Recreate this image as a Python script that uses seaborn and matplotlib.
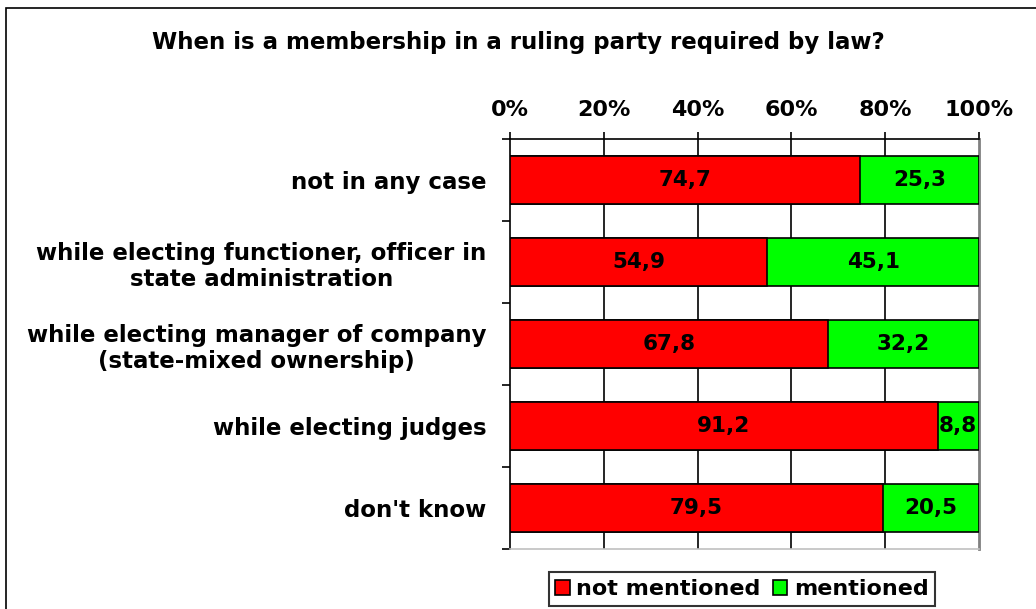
import matplotlib
matplotlib.use("Agg")
import matplotlib.pyplot as plt
import matplotlib.patches as mpatches
import numpy as np
import pandas as pd
import seaborn as sns

# Survey answers
categories = [
    "not in any case",
    "while electing functioner, officer in\nstate administration",
    "while electing manager of company\n(state-mixed ownership)",
    "while electing judges",
    "don't know",
]
not_mentioned = [74.7, 54.9, 67.8, 91.2, 79.5]
mentioned = [25.3, 45.1, 32.2, 8.8, 20.5]
series_names = ["not mentioned", "mentioned"]
tick_values = [0, 20, 40, 60, 80, 100]
title = "When is a membership in a ruling party required by law?"

RED = "#FF0000"
GREEN = "#00FF00"

sns.set_theme(style="white", rc={"text.color": "black", "axes.labelcolor": "black",
                                 "xtick.color": "black", "ytick.color": "black"})
plt.rcParams["font.family"] = ["DejaVu Sans"]
plt.rcParams["font.weight"] = "bold"

df = pd.DataFrame({
    "category": categories,
    "not_mentioned": not_mentioned,
    "mentioned": mentioned,
})
df["total"] = df["not_mentioned"] + df["mentioned"]

fig = plt.figure(figsize=(10.36, 6.09), dpi=100)
fig.patch.set_facecolor("white")

# outer frame
fig.add_artist(mpatches.Rectangle((6 / 1036, -0.05), 1.2, 1 - 8 / 609 + 0.05,
                                  transform=fig.transFigure, fill=False,
                                  edgecolor="black", linewidth=1.2))

ax = fig.add_axes([510 / 1036, 60 / 609, 469 / 1036, 410 / 609])

bar_w = 0.585
sns.barplot(data=df, x="total", y="category", color=GREEN, saturation=1,
            edgecolor="black", linewidth=1.2, width=bar_w, ax=ax, zorder=3)
sns.barplot(data=df, x="not_mentioned", y="category", color=RED, saturation=1,
            edgecolor="black", linewidth=1.2, width=bar_w, ax=ax, zorder=4)

ax.set_xlim(0, 100)
ax.set_ylim(len(categories) - 0.5, -0.5)
ax.set_xlabel("")
ax.set_ylabel("")

# value labels centred in each segment
for i, (a, b) in enumerate(zip(not_mentioned, mentioned)):
    ax.text(a / 2, i, f"{a:.1f}".replace(".", ","), ha="center", va="center",
            fontsize=15.5, fontweight="bold", color="black", zorder=6)
    ax.text(a + b / 2, i, f"{b:.1f}".replace(".", ","), ha="center", va="center",
            fontsize=15.5, fontweight="bold", color="black", zorder=6)

# x axis on top
ax.xaxis.tick_top()
ax.set_xticks(tick_values)
ax.set_xticklabels([f"{v}%" for v in tick_values], fontsize=16, fontweight="bold")
ax.tick_params(axis="x", which="major", direction="out", length=5, width=1.2,
               color="black", pad=9, top=True, bottom=False)
for v in tick_values[1:-1]:
    ax.axvline(v, color="black", linewidth=1.2, zorder=1)

# category labels at centres, ticks at category boundaries
ax.set_yticks(range(len(categories)))
ax.set_yticklabels(categories, fontsize=16.5, fontweight="bold")
for lbl in ax.get_yticklabels():
    lbl.set_multialignment("center")
ax.tick_params(axis="y", which="major", length=0, pad=17)
ax.set_yticks(np.arange(-0.5, len(categories) + 0.5, 1), minor=True)
ax.tick_params(axis="y", which="minor", direction="out", length=6, width=1.2,
               color="black", left=True)

for side in ["left", "top"]:
    ax.spines[side].set_color("black")
    ax.spines[side].set_linewidth(1.2)
ax.spines["right"].set_color("#808080")
ax.spines["right"].set_linewidth(2)
ax.spines["bottom"].set_color("#C0C0C0")
ax.spines["bottom"].set_linewidth(1.2)

fig.text(0.5, 1 - 42 / 609, title, ha="center", va="center",
         fontsize=16.5, fontweight="bold")

handles = [mpatches.Patch(facecolor=RED, edgecolor="black", linewidth=1.2),
           mpatches.Patch(facecolor=GREEN, edgecolor="black", linewidth=1.2)]
leg = fig.legend(handles, series_names, loc="center",
                 bbox_to_anchor=(742 / 1036, 1 - 589 / 609), ncol=2,
                 frameon=True, fancybox=False, edgecolor="black",
                 prop={"size": 16, "weight": "bold"},
                 handlelength=0.65, handleheight=0.65, handletextpad=0.3,
                 columnspacing=0.55, borderpad=0.3, borderaxespad=0)
leg.get_frame().set_linewidth(1.5)

fig.savefig("out.png", dpi=100, facecolor="white")
